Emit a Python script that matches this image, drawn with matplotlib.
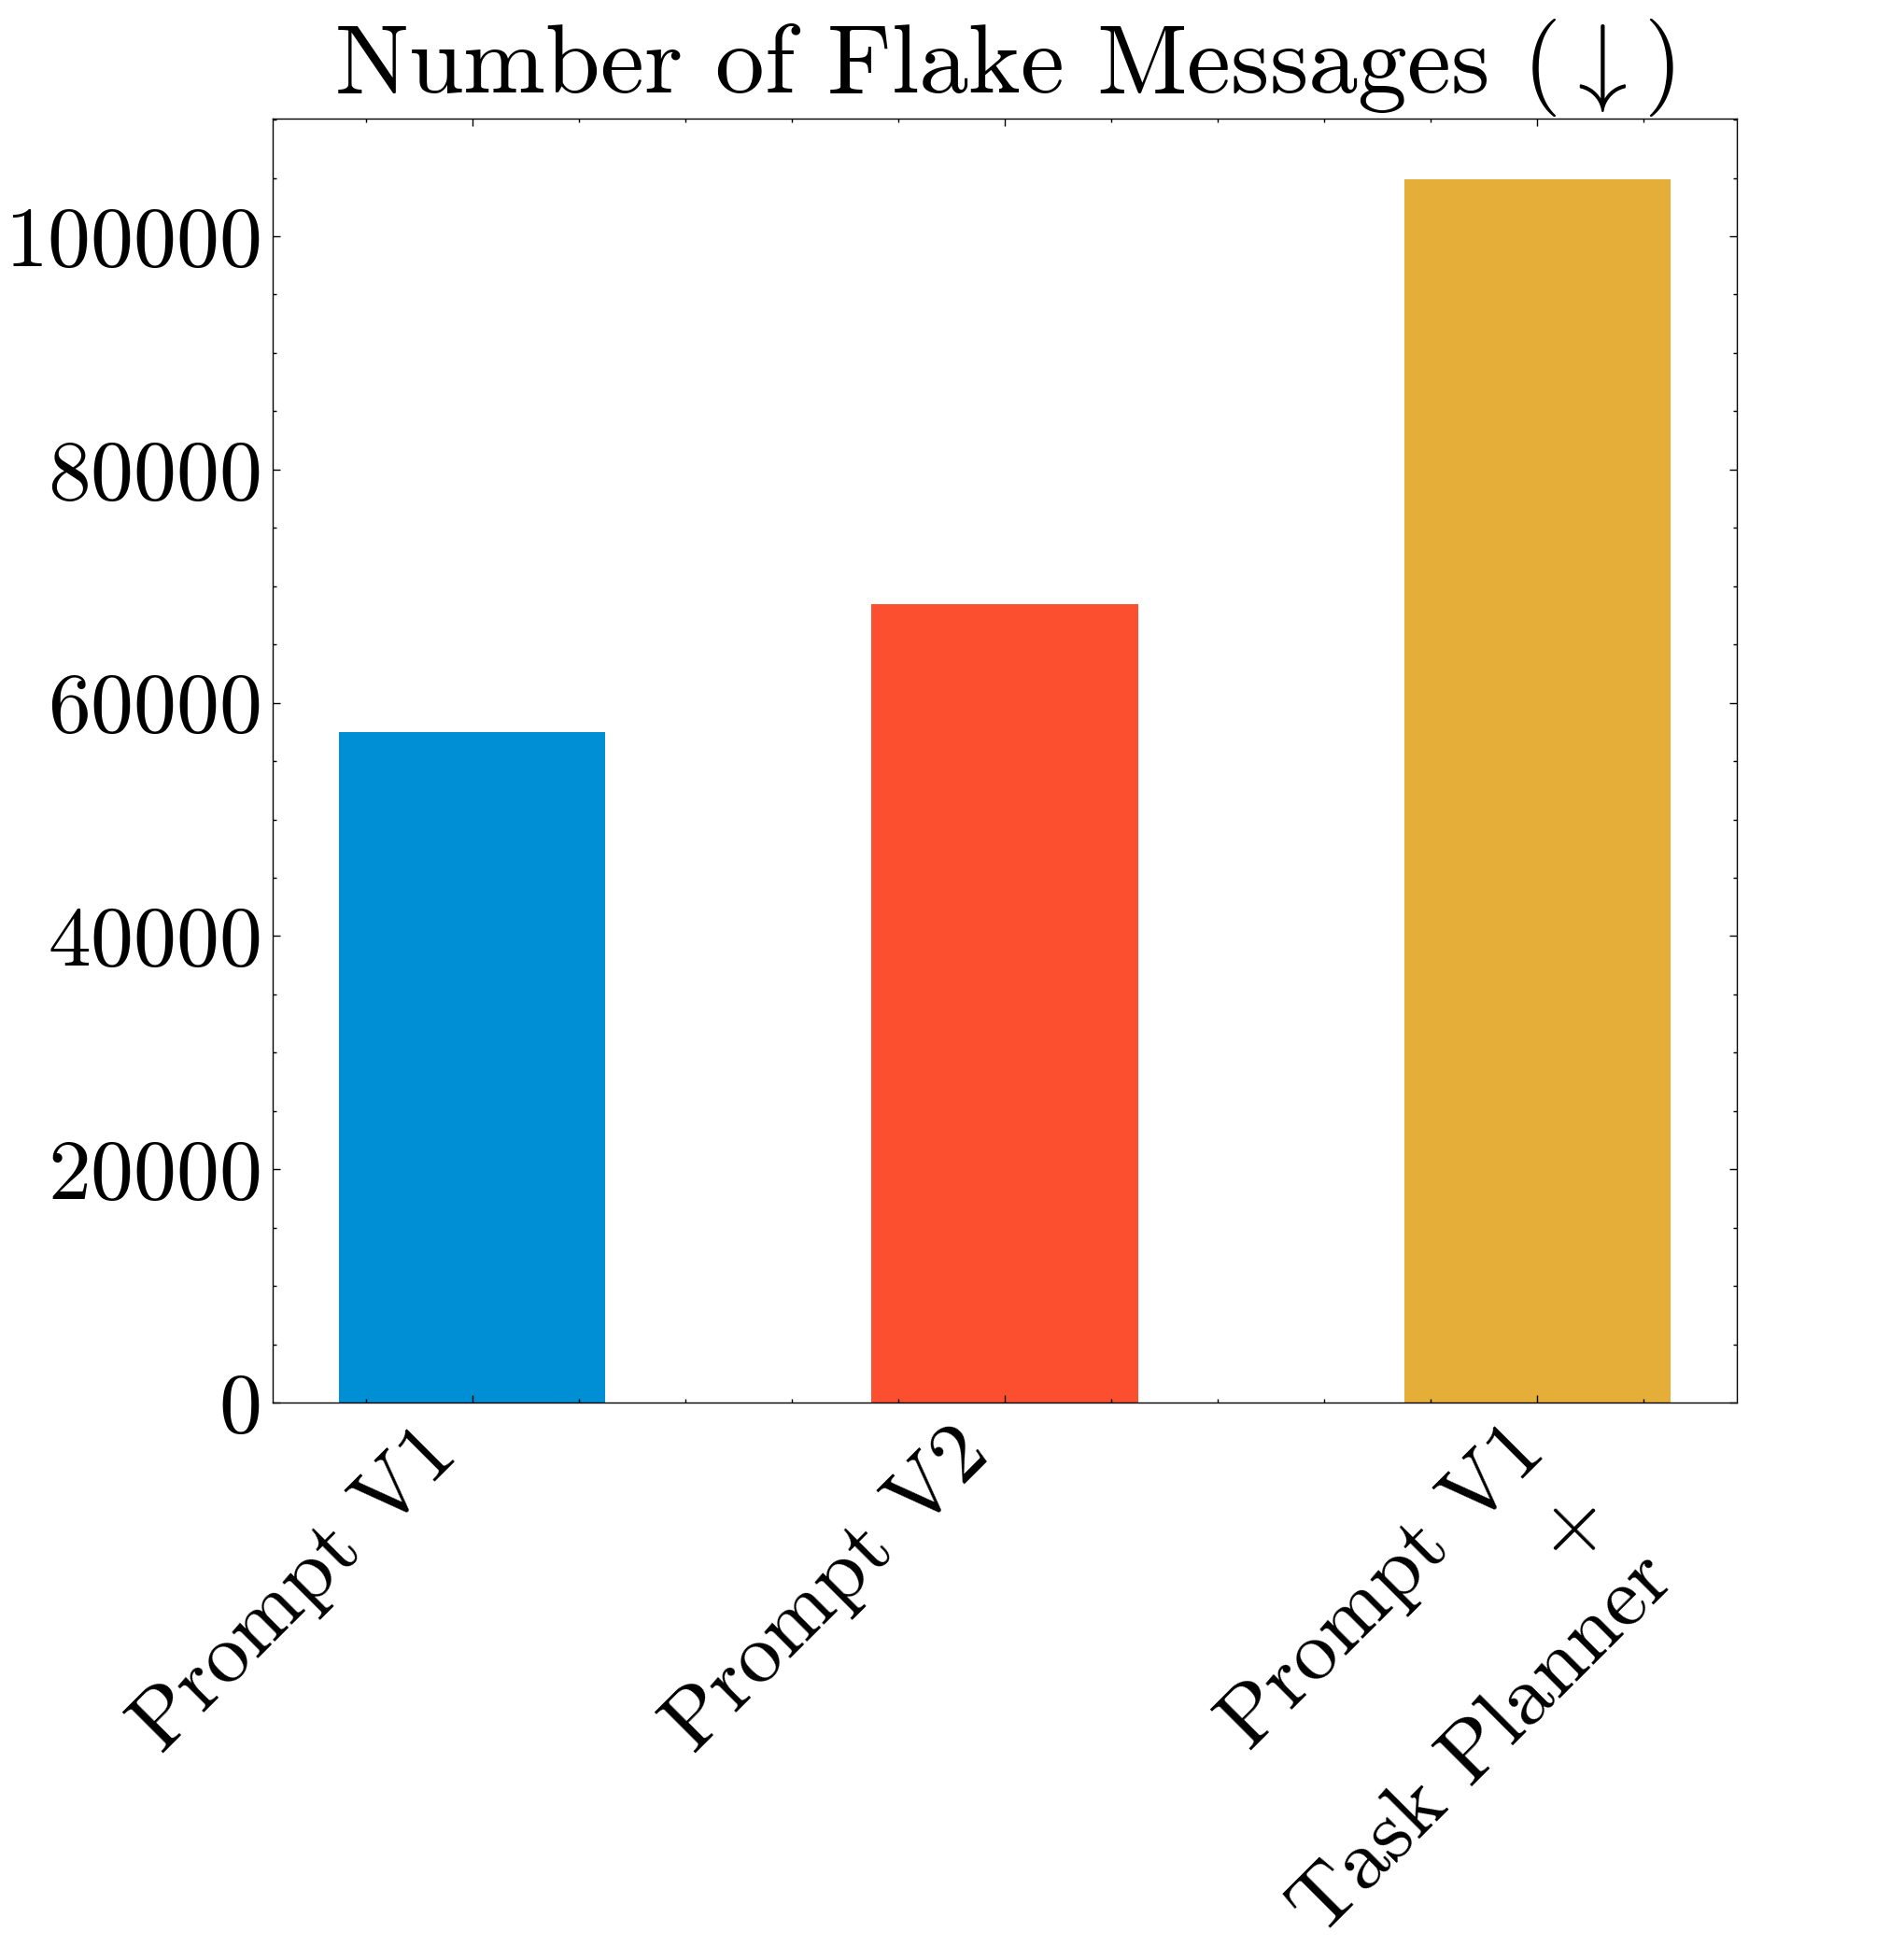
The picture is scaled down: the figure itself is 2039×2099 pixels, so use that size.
import matplotlib
matplotlib.use("Agg")
import matplotlib.pyplot as plt
import matplotlib.transforms as mtransforms
from matplotlib.ticker import AutoMinorLocator, MultipleLocator

categories = ["Prompt V1", "Prompt V2", "Prompt V1\n+\nTask Planner"]
values = [57500, 68450, 104850]
colors = ["#008FD5", "#FC4F30", "#E5AE38"]
title = r"Number of Flake Messages $(\downarrow)$"

plt.rcParams.update({
    "font.family": "serif",
    "font.serif": ["cmr10"],
    "mathtext.fontset": "cm",
    "axes.formatter.use_mathtext": True,
    "axes.linewidth": 0.5,
    "xtick.direction": "in",
    "ytick.direction": "in",
    "xtick.top": True,
    "ytick.right": True,
    "xtick.major.size": 3,
    "ytick.major.size": 3,
    "xtick.minor.size": 1.5,
    "ytick.minor.size": 1.5,
    "xtick.major.width": 0.5,
    "ytick.major.width": 0.5,
    "xtick.minor.width": 0.5,
    "ytick.minor.width": 0.5,
    "xtick.minor.visible": True,
    "ytick.minor.visible": True,
})

fig = plt.figure(figsize=(2039 / 200, 2099 / 200), dpi=200)
ax = fig.add_axes([0.1432, 0.2844, 0.769, 0.6551])

x = list(range(len(categories)))
ax.bar(x, values, width=0.5, color=colors)
ax.set_xticks(x)
ax.set_xticklabels(categories, rotation=45, ha="right", va="top",
                   rotation_mode="anchor", fontsize=33, linespacing=1.24)
ax.xaxis.set_minor_locator(AutoMinorLocator(5))
ax.yaxis.set_major_locator(MultipleLocator(20000))
ax.yaxis.set_minor_locator(MultipleLocator(5000))
ax.tick_params(axis="y", labelsize=33, pad=5)
ax.tick_params(axis="x", pad=4)
ax.set_title(title, fontsize=38, pad=10)

# shift of the rotated category labels (points)
label_shifts = [(-21, -0.5), (-21, -0.5), (-12, 0.5)]
for tick, (dx, dy) in zip(ax.xaxis.get_major_ticks(), label_shifts):
    off = mtransforms.ScaledTranslation(dx / 72, dy / 72, fig.dpi_scale_trans)
    tick.label1.set_transform(tick.label1.get_transform() + off)

fig.savefig("out.png", dpi=200)
